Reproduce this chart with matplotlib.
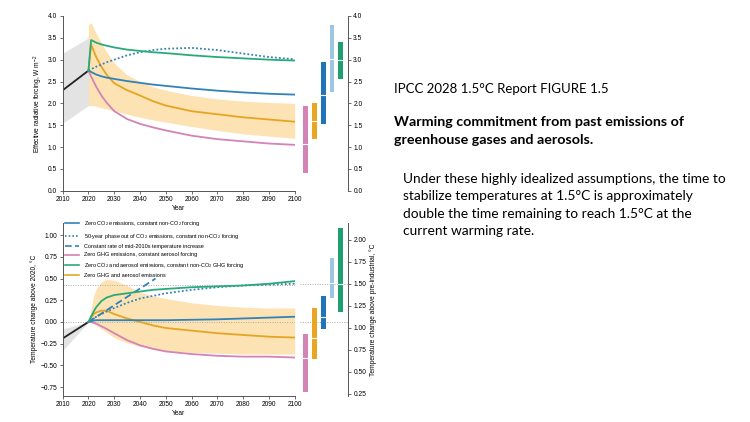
import matplotlib
matplotlib.use("Agg")
import matplotlib.pyplot as plt
from matplotlib.lines import Line2D

# years shared by the scenario curves
years = [2020, 2021, 2022, 2023, 2025, 2027, 2030, 2035, 2040, 2045, 2050, 2060, 2070, 2080, 2090, 2100]
hist_years = [2010, 2020]

# top panel: effective radiative forcing, W m-2
hist_forcing = [2.3, 2.75]
hist_forcing_lo = [1.55, 1.95]
hist_forcing_hi = [3.15, 3.5]
f_zero_co2 = [2.75, 2.72, 2.69, 2.66, 2.62, 2.59, 2.56, 2.51, 2.47, 2.43, 2.40, 2.34, 2.29, 2.25, 2.22, 2.20]
f_phaseout = [2.75, 2.78, 2.81, 2.84, 2.89, 2.94, 3.0, 3.1, 3.17, 3.22, 3.25, 3.27, 3.22, 3.14, 3.06, 3.01]
f_zero_ghg = [2.75, 2.62, 2.5, 2.38, 2.18, 2.02, 1.82, 1.64, 1.53, 1.45, 1.38, 1.26, 1.18, 1.13, 1.08, 1.05]
f_zero_co2_aer = [2.75, 3.45, 3.42, 3.39, 3.35, 3.32, 3.28, 3.23, 3.2, 3.17, 3.15, 3.1, 3.06, 3.03, 3.0, 2.98]
f_zero_ghg_aer = [2.75, 3.35, 3.2, 3.06, 2.84, 2.66, 2.46, 2.3, 2.18, 2.05, 1.95, 1.82, 1.75, 1.68, 1.63, 1.58]
f_band_lo = [1.95, 1.95, 1.95, 1.93, 1.9, 1.87, 1.83, 1.75, 1.68, 1.62, 1.57, 1.47, 1.38, 1.3, 1.25, 1.2]
f_band_hi = [3.8, 3.85, 3.72, 3.6, 3.38, 3.18, 2.92, 2.65, 2.5, 2.38, 2.3, 2.18, 2.1, 2.05, 2.02, 2.0]

# bottom panel: temperature change above 2020, degC
hist_temp = [-0.19, 0.0]
hist_temp_lo = [-0.33, 0.0]
hist_temp_hi = [-0.08, 0.0]
t_zero_co2 = [0, 0.01, 0.015, 0.02, 0.02, 0.02, 0.02, 0.02, 0.02, 0.02, 0.02, 0.025, 0.03, 0.04, 0.05, 0.06]
t_phaseout = [0, 0.02, 0.04, 0.06, 0.09, 0.12, 0.16, 0.22, 0.27, 0.3, 0.33, 0.37, 0.4, 0.42, 0.43, 0.44]
t_zero_ghg = [0, 0.0, -0.01, -0.02, -0.05, -0.08, -0.13, -0.21, -0.27, -0.31, -0.34, -0.37, -0.39, -0.40, -0.40, -0.41]
t_zero_co2_aer = [0, 0.06, 0.12, 0.17, 0.24, 0.28, 0.31, 0.33, 0.35, 0.37, 0.38, 0.40, 0.41, 0.42, 0.44, 0.47]
t_zero_ghg_aer = [0, 0.05, 0.09, 0.11, 0.13, 0.13, 0.09, 0.04, 0.0, -0.04, -0.07, -0.1, -0.13, -0.15, -0.17, -0.18]
t_band_lo = [0, -0.01, -0.02, -0.04, -0.08, -0.12, -0.18, -0.24, -0.28, -0.31, -0.33, -0.35, -0.36, -0.37, -0.37, -0.37]
t_band_hi = [0, 0.15, 0.3, 0.38, 0.46, 0.49, 0.48, 0.42, 0.34, 0.3, 0.27, 0.22, 0.19, 0.17, 0.16, 0.16]
const_rate_years = [2020, 2046]
const_rate_temp = [0.0, 0.5]
ref_levels = [0.0, 0.43]          # 2020 level and 1.5 degC level, left axis units
ref_levels_preind = [1.065, 1.5]  # same levels, pre-industrial units

# 2100 ranges (bars): pink, yellow, dark blue, light blue, green
bar_colors = ["#d383b5", "#e9a623", "#1f75b6", "#9cc6e4", "#1f9e6f"]
f_bar_lo = [0.40, 1.19, 1.53, 2.27, 2.56]
f_bar_hi = [1.94, 2.00, 2.95, 3.80, 3.40]
f_bar_mid = [1.06, 1.60, 2.19, 3.01, 2.99]
t_bar_lo = [0.266, 0.641, 0.982, 1.341, 1.175]
t_bar_hi = [0.925, 1.22, 1.36, 1.796, 2.137]
t_bar_mid = [0.652, 0.887, 1.125, 1.512, 1.497]

legend_labels = [
    "Zero CO$_2$ emissions, constant non-CO$_2$ forcing",
    "50-year phase out of CO$_2$ emissions, constant non-CO$_2$ forcing",
    "Constant rate of mid-2010s temperature increase",
    "Zero GHG emissions, constant aerosol forcing",
    "Zero CO$_2$ and aerosol emissions, constant non-CO$_2$ GHG forcing",
    "Zero GHG and aerosol emissions",
]

BLUE = "#3282b8"
PINK = "#d383b5"
GREEN = "#2aa97a"
YELLOW = "#e5a524"
BAND = "#fde2b3"
GREY = "#e3e3e3"
SPINE = "#555555"

plt.rcParams['font.family'] = ['Liberation Sans', 'DejaVu Sans']
plt.rcParams['mathtext.fontset'] = 'custom'
plt.rcParams['mathtext.rm'] = 'Liberation Sans'
TICK = 4.8

fig = plt.figure(figsize=(7.5, 4.22), dpi=100)
W, H = 750.0, 422.0


def px_axes(x0, y0, x1, y1):
    return fig.add_axes([x0 / W, 1 - y1 / H, (x1 - x0) / W, (y1 - y0) / H])


def style_main(ax):
    for s in ["top", "right"]:
        ax.spines[s].set_visible(False)
    for s in ["left", "bottom"]:
        ax.spines[s].set_color(SPINE)
        ax.spines[s].set_linewidth(0.7)
    ax.tick_params(labelsize=TICK, length=2.5, width=0.6, color=SPINE, pad=1.5)
    ax.set_xlim(2010, 2100)
    ax.set_xticks(range(2010, 2101, 10))
    ax.set_xlabel("Year", fontsize=TICK, labelpad=1)


def style_bars(ax):
    for s in ["top", "left", "bottom"]:
        ax.spines[s].set_visible(False)
    ax.spines["right"].set_color(SPINE)
    ax.spines["right"].set_linewidth(0.7)
    ax.yaxis.tick_right()
    ax.yaxis.set_label_position("right")
    ax.set_xticks([])
    ax.set_xlim(-0.65, 4.8)
    ax.patch.set_alpha(0)
    ax.tick_params(labelsize=TICK, length=2.5, width=0.6, color=SPINE, pad=1.5)


def draw_bars(ax, lo, hi, mid):
    xs = range(len(lo))
    heights = [h - l for l, h in zip(lo, hi)]
    ax.bar(xs, heights, bottom=lo, width=0.55, color=bar_colors, zorder=3)
    for x, m in zip(xs, mid):
        ax.plot([x - 0.275, x + 0.275], [m, m], color="white", lw=0.8, zorder=4)


# ---- top panel ----
ax1 = px_axes(62.7, 16, 294.7, 190.7)
style_main(ax1)
ax1.fill_between(hist_years, hist_forcing_lo, hist_forcing_hi, color=GREY, lw=0)
ax1.fill_between(years, f_band_lo, f_band_hi, color=BAND, lw=0)
ax1.plot(hist_years, hist_forcing, color="#222222", lw=1.3)
ax1.plot(years, f_zero_ghg, color=PINK, lw=1.3)
ax1.plot(years, f_zero_ghg_aer, color=YELLOW, lw=1.3)
ax1.plot(years, f_zero_co2, color=BLUE, lw=1.3)
ax1.plot(years, f_phaseout, color=BLUE, lw=1.3, ls=(0, (1, 1.2)))
ax1.plot(years, f_zero_co2_aer, color=GREEN, lw=1.3)
ax1.set_ylim(0, 4)
ax1.set_yticks([0, 0.5, 1, 1.5, 2, 2.5, 3, 3.5, 4])
ax1.set_yticklabels([f"{v:.1f}" for v in ax1.get_yticks()])
ax1.set_ylabel("Effective radiative forcing, W m$^{-2}$", fontsize=TICK, labelpad=2)

bx1 = px_axes(300, 16, 347.7, 190.7)
style_bars(bx1)
draw_bars(bx1, f_bar_lo, f_bar_hi, f_bar_mid)
bx1.set_ylim(0, 4)
bx1.set_yticks([0, 0.5, 1, 1.5, 2, 2.5, 3, 3.5, 4])
bx1.set_yticklabels([f"{v:.1f}" for v in bx1.get_yticks()])

# ---- bottom panel ----
ax2 = px_axes(62.7, 223, 294.7, 395.7)
style_main(ax2)
ax2.fill_between(hist_years, hist_temp_lo, hist_temp_hi, color=GREY, lw=0)
ax2.fill_between(years, t_band_lo, t_band_hi, color=BAND, lw=0)
for lev in ref_levels:
    ax2.axhline(lev, color="#aaaaaa", lw=0.7, ls=(0, (1, 1.5)), zorder=1)
ax2.plot(hist_years, hist_temp, color="#222222", lw=1.3)
ax2.plot(years, t_zero_ghg, color=PINK, lw=1.3)
ax2.plot(years, t_zero_ghg_aer, color=YELLOW, lw=1.3)
ax2.plot(years, t_zero_co2, color=BLUE, lw=1.3)
ax2.plot(years, t_phaseout, color=BLUE, lw=1.3, ls=(0, (1, 1.2)))
ax2.plot(const_rate_years, const_rate_temp, color=BLUE, lw=1.3, ls=(0, (4, 2)))
ax2.plot(years, t_zero_co2_aer, color=GREEN, lw=1.3)
ax2.set_ylim(-0.85, 1.14)
ax2.set_yticks([-0.75, -0.5, -0.25, 0, 0.25, 0.5, 0.75, 1.0])
ax2.set_yticklabels([f"{v:.2f}".replace("-", "\u2212") for v in ax2.get_yticks()])
ax2.set_ylabel("Temperature change above 2020, \u00b0C", fontsize=TICK, labelpad=2)

handles = [
    Line2D([], [], color=BLUE, lw=1.2),
    Line2D([], [], color=BLUE, lw=1.2, ls=(0, (1, 1.2))),
    Line2D([], [], color=BLUE, lw=1.2, ls=(0, (4, 2))),
    Line2D([], [], color=PINK, lw=1.2),
    Line2D([], [], color=GREEN, lw=1.2),
    Line2D([], [], color=YELLOW, lw=1.2),
]
ax2.legend(handles, legend_labels, loc="upper left", bbox_to_anchor=(-0.005, 1.045),
           frameon=False, fontsize=4.0, handlelength=2.4, handletextpad=1.0,
           labelspacing=0.62, borderaxespad=0.3)

bx2 = px_axes(300, 223, 347.7, 395.7)
style_bars(bx2)
for lev in ref_levels_preind:
    bx2.axhline(lev, color="#aaaaaa", lw=0.7, ls=(0, (1, 1.5)), zorder=1)
draw_bars(bx2, t_bar_lo, t_bar_hi, t_bar_mid)
bx2.set_ylim(0.227, 2.19)
bx2.set_yticks([0.25, 0.5, 0.75, 1.0, 1.25, 1.5, 1.75, 2.0])
bx2.set_yticklabels([f"{v:.2f}" for v in bx2.get_yticks()])
bx2.set_ylabel("Temperature change above pre-industrial, \u00b0C", fontsize=TICK,
               rotation=90, labelpad=2)

# ---- slide text ----
TXT = ['Lato', 'DejaVu Sans']
fig.text(394 / W, 1 - 89 / H, "IPCC 2028 1.5\u00b0C Report FIGURE 1.5",
         fontsize=9.5, family=TXT, va="center", ha="left")
fig.text(394 / W, 1 - 121.7 / H, "Warming commitment from past emissions of",
         fontsize=10.25, family=TXT, weight="bold", va="center", ha="left")
fig.text(394 / W, 1 - 140 / H, "greenhouse gases and aerosols.",
         fontsize=10.25, family=TXT, weight="bold", va="center", ha="left")
para = [
    "Under these highly idealized assumptions, the time to",
    "stabilize temperatures at 1.5\u00b0C is approximately",
    "double the time remaining to reach 1.5\u00b0C at the",
    "current warming rate.",
]
for i, line in enumerate(para):
    fig.text(403.3 / W, 1 - (179.3 + 17.1 * i) / H, line,
             fontsize=9.9, family=TXT, va="center", ha="left")

fig.savefig("out.png", dpi=100)
